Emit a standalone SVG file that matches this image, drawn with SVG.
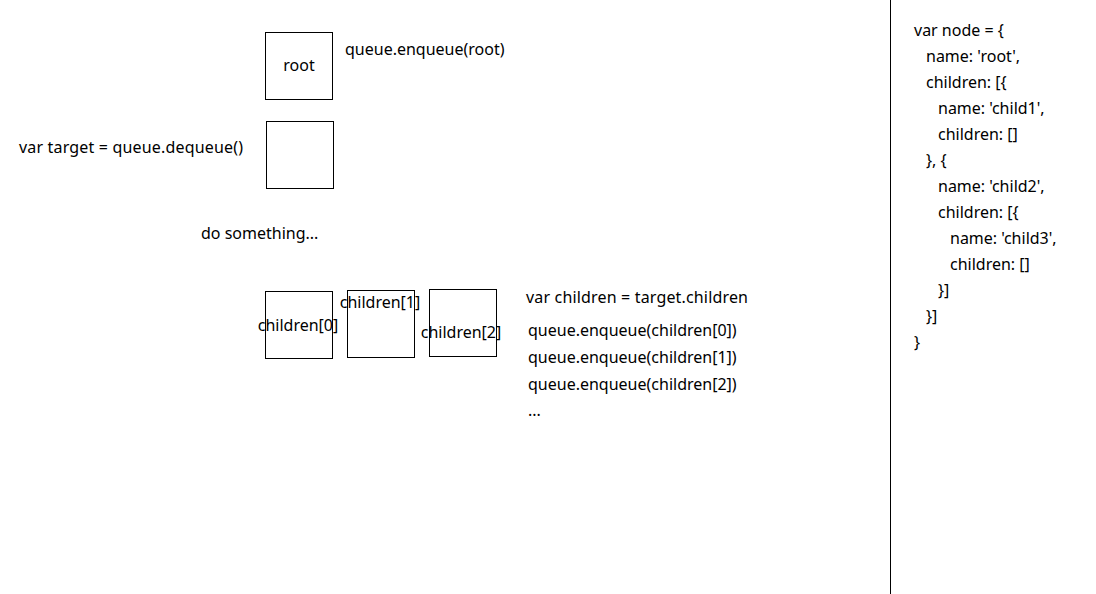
<svg xmlns="http://www.w3.org/2000/svg" width="1096" height="594" viewBox="0 0 1096 594">
<style>
text{font-family:"Noto Sans","Liberation Sans",sans-serif;font-size:16px;fill:#000}
.box{fill:#fff;stroke:#000;stroke-width:1}
</style>
<rect width="1096" height="594" fill="#fff"/>
<g id="root-node"><rect class="box" x="265.5" y="32.5" width="67" height="67"/><text x="299" y="71" text-anchor="middle">root</text></g>
<g id="target-node"><rect class="box" x="266.5" y="121.5" width="67" height="67"/></g>
<g id="child0-node"><rect class="box" x="265.5" y="291.5" width="67" height="67"/><text x="298" y="331" text-anchor="middle">children[0]</text></g>
<g id="child1-node"><rect class="box" x="347.5" y="290.5" width="67" height="67"/><text x="380" y="308" text-anchor="middle">children[1]</text></g>
<g id="child2-node"><rect class="box" x="429.5" y="289.5" width="67" height="67"/><text x="461" y="338" text-anchor="middle">children[2]</text></g>
<g id="labels">
<text x="345" y="55">queue.enqueue(root)</text>
<text x="19" y="153" textLength="224">var target = queue.dequeue()</text>
<text x="201" y="239">do something...</text>
<text x="526" y="303" textLength="222">var children = target.children</text>
<text x="528" y="336">queue.enqueue(children[0])</text>
<text x="528" y="363">queue.enqueue(children[1])</text>
<text x="528" y="390">queue.enqueue(children[2])</text>
<text x="528" y="416">...</text>
</g>
<g id="connectors"><line x1="890.5" y1="0" x2="890.5" y2="594" stroke="#000" stroke-width="1"/></g>
<g id="code">
<text x="914" y="36">var node = {</text>
<text x="926" y="62">name: 'root',</text>
<text x="926" y="88">children: [{</text>
<text x="938" y="114">name: 'child1',</text>
<text x="938" y="140">children: []</text>
<text x="926" y="166">}, {</text>
<text x="938" y="192">name: 'child2',</text>
<text x="938" y="218">children: [{</text>
<text x="950" y="244">name: 'child3',</text>
<text x="950" y="270">children: []</text>
<text x="938" y="296">}]</text>
<text x="926" y="322">}]</text>
<text x="914" y="348">}</text>
</g>
</svg>
